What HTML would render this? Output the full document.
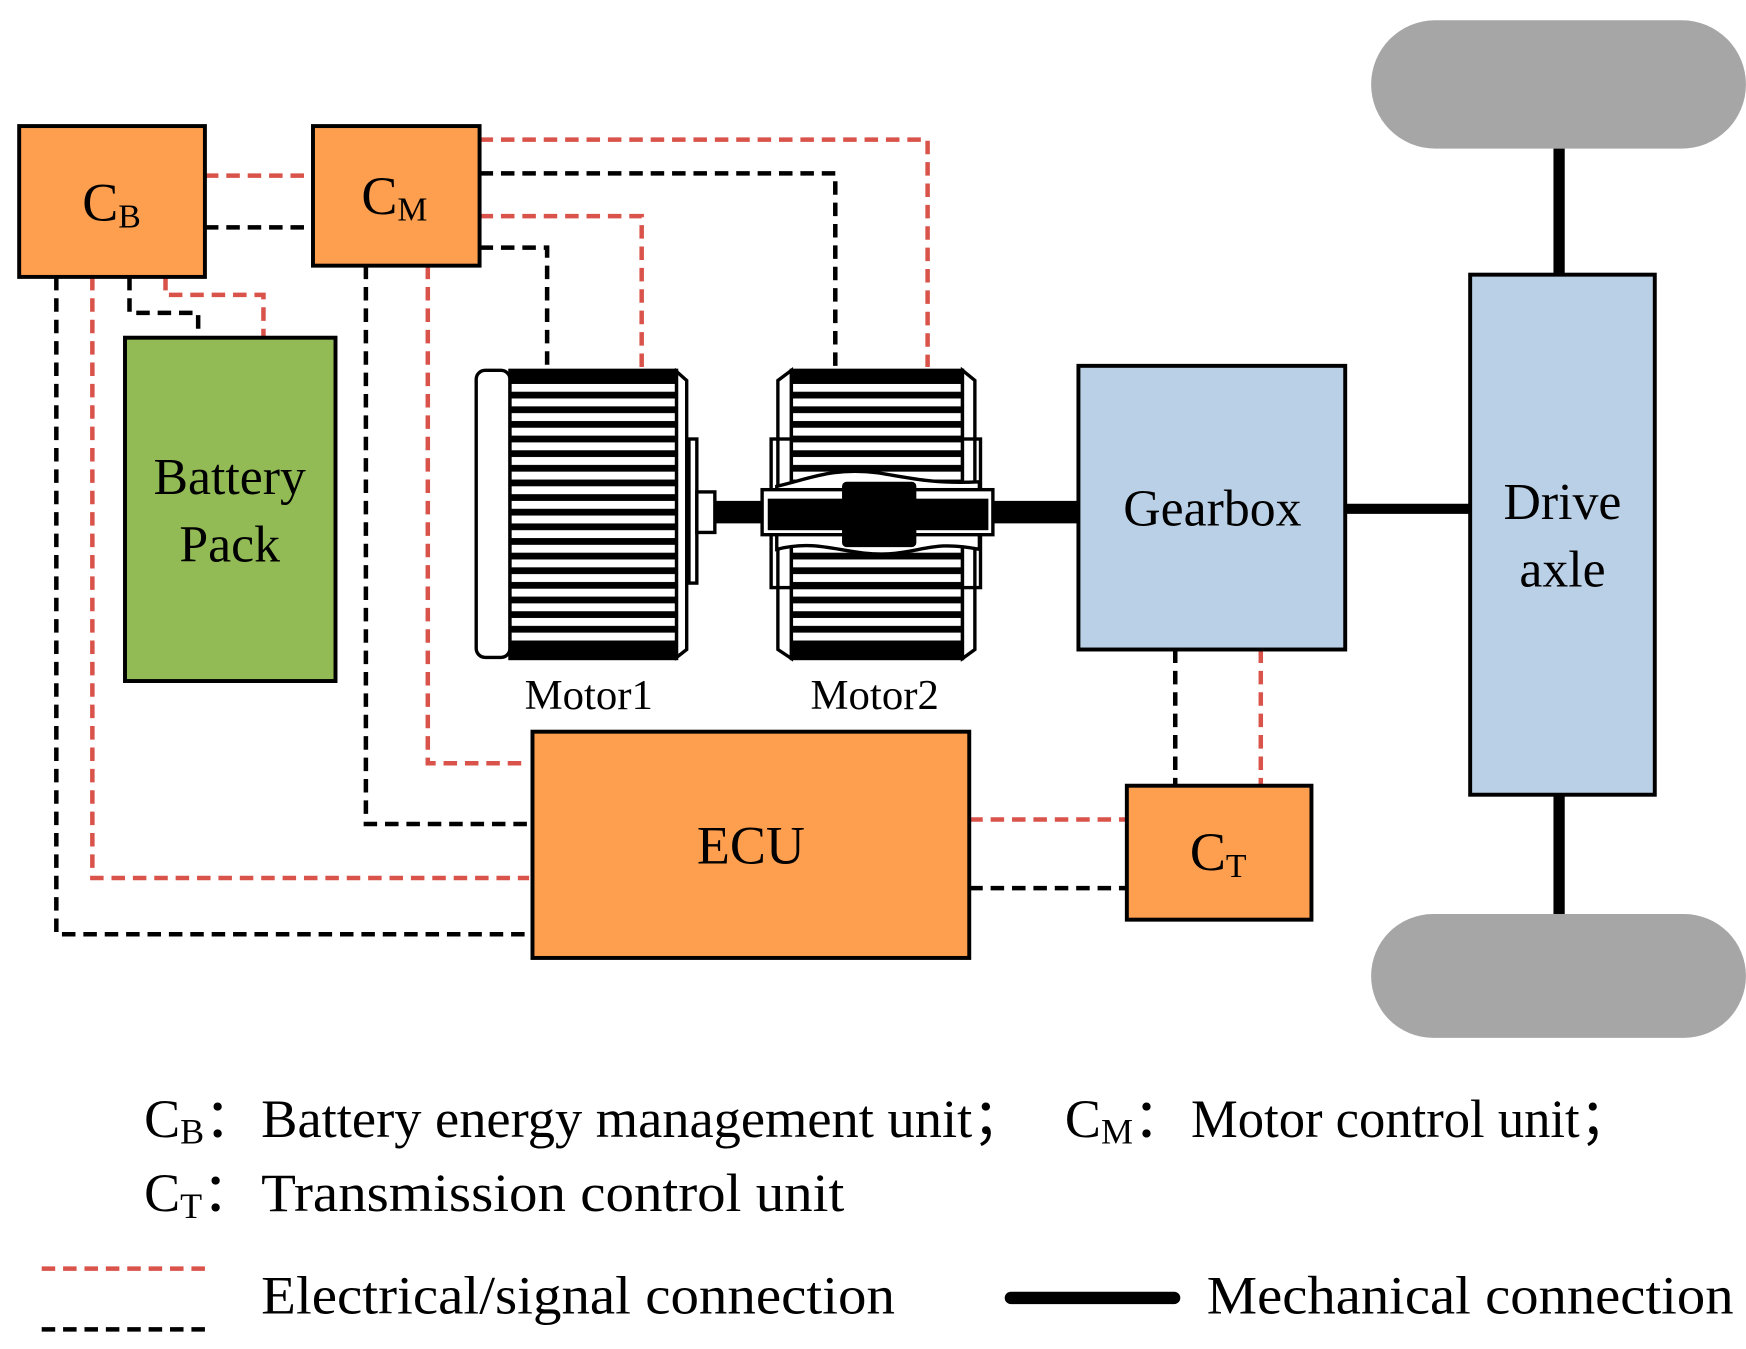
<!DOCTYPE html>
<html><head><meta charset="utf-8"><style>
html,body{margin:0;padding:0;background:#fff}
svg{display:block}
text{font-family:"Liberation Serif",serif;fill:#000}
</style></head><body>
<svg width="1746" height="1349" viewBox="0 0 1551 1198.4" xmlns="http://www.w3.org/2000/svg">
<defs>
<pattern id="st" x="0" y="0" width="10" height="13" patternUnits="userSpaceOnUse">
<rect width="10" height="13" fill="#000"/><rect y="3" width="10" height="7" fill="#fff"/>
</pattern>
</defs>
<g fill="none" stroke-width="4" stroke-dasharray="12 7">
<path d="M182 156H270" stroke="#d9534a"/>
<path d="M182 202H270" stroke="#000"/>
<path d="M426 124H824V326" stroke="#d9534a"/>
<path d="M426 154H742V326" stroke="#000"/>
<path d="M426 192H570V326" stroke="#d9534a"/>
<path d="M426 220H486V326" stroke="#000"/>
<path d="M115 246V278H176V300" stroke="#000"/>
<path d="M147 246V262H234V300" stroke="#d9534a"/>
<path d="M50 246V830H470" stroke="#000"/>
<path d="M82 246V780H470" stroke="#d9534a"/>
<path d="M325 236V732H470" stroke="#000"/>
<path d="M380 236V678H470" stroke="#d9534a"/>
<path d="M861 728H1001" stroke="#d9534a"/>
<path d="M861 789H1001" stroke="#000"/>
<path d="M1044 577V698" stroke="#000"/>
<path d="M1120 577V698" stroke="#d9534a"/>
<path d="M37 1127H185" stroke="#d9534a"/>
<path d="M37 1181H185" stroke="#000"/>
</g>
<rect x="1218" y="18" width="333" height="114" rx="57" fill="#a6a6a6"/>
<rect x="1218" y="812" width="333" height="110" rx="55" fill="#a6a6a6"/>
<path d="M1385 132V244M1385 706V812" stroke="#000" stroke-width="10"/>
<path d="M1195 452H1306" stroke="#000" stroke-width="9"/>
<path d="M612 455H958" stroke="#000" stroke-width="20"/>
<path d="M898 1153H1043" stroke="#000" stroke-width="11" stroke-linecap="round"/>
<g stroke="#000" stroke-width="3.5">
<rect x="17" y="112" width="165" height="134" fill="#fe9e4f"/>
<rect x="278" y="112" width="148" height="124" fill="#fe9e4f"/>
<rect x="111" y="300" width="187" height="305" fill="#92bb56"/>
<rect x="958" y="325" width="237" height="252" fill="#bad0e6"/>
<rect x="1306" y="244" width="164" height="462" fill="#bad0e6"/>
<rect x="473" y="650" width="388" height="201" fill="#fe9e4f"/>
<rect x="1001" y="698" width="164" height="119" fill="#fe9e4f"/>
</g>
<g stroke="#000" stroke-width="3">
<rect x="423" y="329" width="30" height="255" rx="8" fill="#fff"/>
<rect x="453" y="329" width="148" height="256" fill="url(#st)"/>
<path d="M601 330L610 338V577L601 584Z" fill="#fff"/>
<rect x="612" y="390" width="7" height="128" fill="#fff"/>
<rect x="619" y="437" width="16" height="36" fill="#fff"/>
</g>
<rect x="453" y="329" width="148" height="12" fill="#000"/>
<rect x="453" y="574" width="148" height="11" fill="#000"/>
<g stroke="#000" stroke-width="3">
<path d="M703 329L691 338V577L703 585Z" fill="#fff"/>
<rect x="703" y="329" width="152" height="256" fill="url(#st)"/>
<path d="M855 329L866 338V577L855 585Z" fill="#fff"/>
<rect x="685" y="390" width="186" height="132" fill="none"/>
<path d="M690 432C720 425 740 415 780 420C810 425 830 430 870 428V488C830 480 820 490 790 492C750 494 730 478 690 488Z" fill="#fff"/>
<rect x="677" y="435" width="205" height="40" fill="#fff"/>
</g>
<rect x="703" y="329" width="152" height="12" fill="#000"/>
<rect x="703" y="574" width="152" height="11" fill="#000"/>
<rect x="682" y="443" width="196" height="28" fill="#000"/>
<rect x="748" y="428" width="66" height="58" fill="#000" rx="4"/>
<text x="73" y="196" font-size="48">C<tspan font-size="30" dy="6">B</tspan></text>
<text x="321" y="190" font-size="48">C<tspan font-size="30" dy="6">M</tspan></text>
<text x="204" y="439" font-size="46" text-anchor="middle">Battery</text>
<text x="204" y="499" font-size="46" text-anchor="middle">Pack</text>
<text x="1077" y="467" font-size="46" text-anchor="middle">Gearbox</text>
<text x="1388" y="461" font-size="46" text-anchor="middle">Drive</text>
<text x="1388" y="521" font-size="46" text-anchor="middle">axle</text>
<text x="667" y="767" font-size="48" text-anchor="middle">ECU</text>
<text x="1057" y="773" font-size="48">C<tspan font-size="30" dy="6">T</tspan></text>
<text x="523" y="630" font-size="38" text-anchor="middle">Motor1</text>
<text x="777" y="630" font-size="38" text-anchor="middle">Motor2</text>
<text x="128" y="1010" font-size="48">C<tspan font-size="32" dy="6">B</tspan><tspan dy="-6">：</tspan></text>
<text x="232" y="1010" font-size="48" textLength="680" lengthAdjust="spacingAndGlyphs">Battery energy management unit；</text>
<text x="946" y="1010" font-size="48">C<tspan font-size="32" dy="6">M</tspan><tspan dy="-6">：</tspan></text>
<text x="1058" y="1010" font-size="48" textLength="392" lengthAdjust="spacingAndGlyphs">Motor control unit；</text>
<text x="128" y="1076" font-size="48">C<tspan font-size="32" dy="6">T</tspan><tspan dy="-6">：</tspan></text>
<text x="232" y="1076" font-size="48" textLength="518" lengthAdjust="spacingAndGlyphs">Transmission control unit</text>
<text x="232" y="1167" font-size="48" textLength="563" lengthAdjust="spacingAndGlyphs">Electrical/signal connection</text>
<text x="1072" y="1167" font-size="48" textLength="468" lengthAdjust="spacingAndGlyphs">Mechanical connection</text>
</svg>
</body></html>
